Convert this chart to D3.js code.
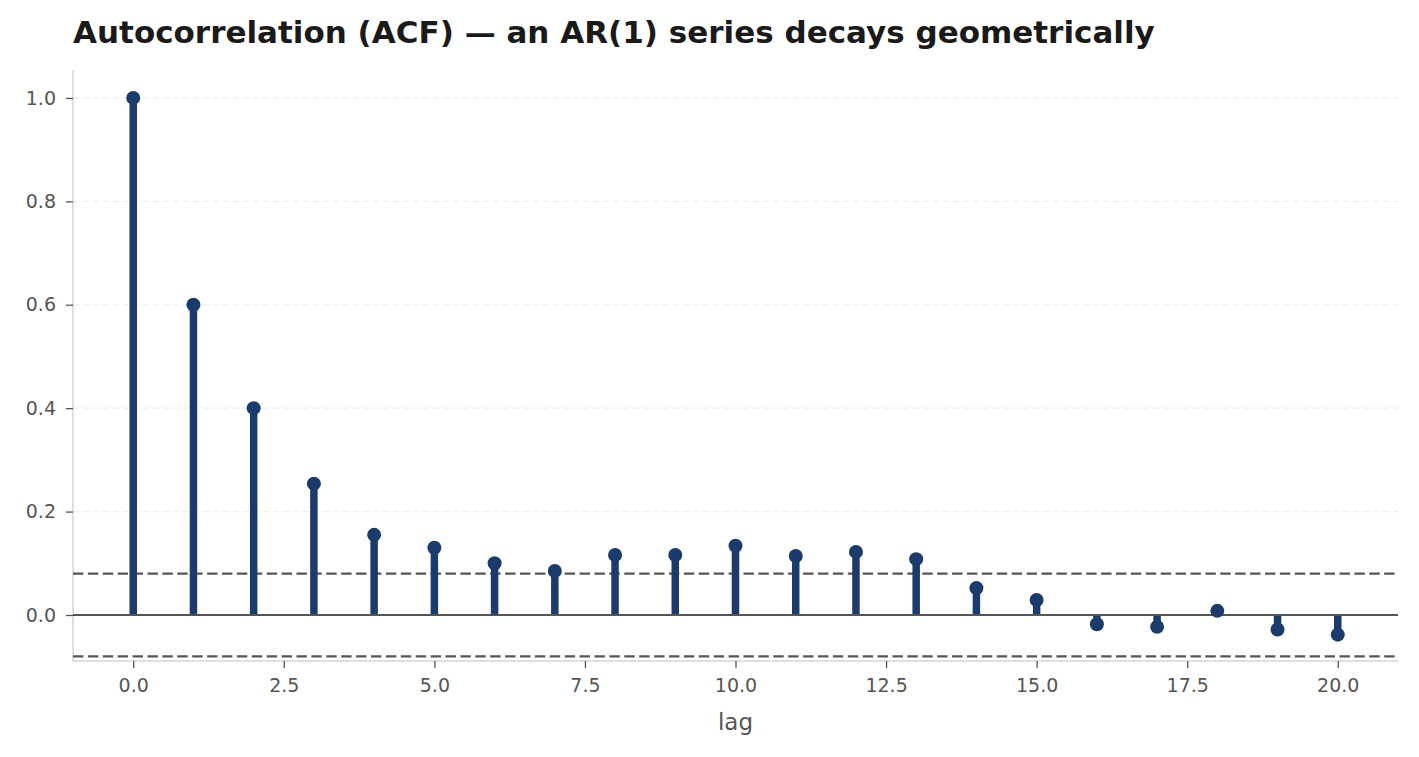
<!DOCTYPE html>
<html>
<head>
<meta charset="utf-8">
<script src="https://cdn.jsdelivr.net/npm/d3@7"></script>
<style>
  body { margin: 0; background: #fff; }
  svg { font-family: "DejaVu Sans", sans-serif; }
</style>
</head>
<body>
<div id="chart"></div>
<script>
const lags = d3.range(0, 21);
const acf = [1.0, 0.600, 0.400, 0.254, 0.155, 0.130, 0.100, 0.085, 0.116, 0.116,
             0.134, 0.114, 0.122, 0.108, 0.052, 0.029, -0.018, -0.023, 0.008, -0.028, -0.038];
const confBound = 0.08;
const yTicks = [0.0, 0.2, 0.4, 0.6, 0.8, 1.0];
const xTicks = [0, 2.5, 5, 7.5, 10, 12.5, 15, 17.5, 20];

const width = 1419, height = 757;
const margin = {top: 70, right: 21, bottom: 96, left: 73};

const svg = d3.select('#chart').append('svg')
  .attr('width', width)
  .attr('height', height);

const x = d3.scaleLinear().domain([-1, 21]).range([margin.left, width - margin.right]);
const y = d3.scaleLinear().domain([-0.089, 1.054]).range([height - margin.bottom, margin.top]);

const stemColor = '#1b3b6c';
const darkGrey = '#555555';

// grid
svg.append('g')
  .selectAll('line')
  .data(yTicks)
  .enter().append('line')
    .attr('x1', margin.left)
    .attr('x2', width - margin.right)
    .attr('y1', d => y(d))
    .attr('y2', d => y(d))
    .attr('stroke', '#eceef5')
    .attr('stroke-width', 1.2)
    .attr('stroke-dasharray', '6,4');

// axes
const yAxis = svg.append('g')
  .attr('transform', `translate(${margin.left},0)`)
  .call(d3.axisLeft(y).tickValues(yTicks).tickFormat(d3.format('.1f')).tickSize(7).tickPadding(10));
const xAxis = svg.append('g')
  .attr('transform', `translate(0,${height - margin.bottom})`)
  .call(d3.axisBottom(x).tickValues(xTicks).tickFormat(d3.format('.1f')).tickSize(7).tickPadding(11));

[xAxis, yAxis].forEach(a => {
  a.attr('font-size', null).attr('font-family', null);
  a.select('.domain').attr('stroke', '#d4d4d4').attr('stroke-width', 1.5);
  a.selectAll('.tick line').attr('stroke', darkGrey).attr('stroke-width', 1.3);
  a.selectAll('.tick text').attr('fill', darkGrey).attr('font-size', 19);
});
xAxis.select('.domain').attr('d', `M${margin.left},0H${width - margin.right}`);
yAxis.select('.domain').attr('d', `M0,${margin.top}V${height - margin.bottom}`);

// confidence band lines
svg.append('g')
  .selectAll('line')
  .data([confBound, -confBound])
  .enter().append('line')
    .attr('x1', margin.left)
    .attr('x2', width - margin.right)
    .attr('y1', d => y(d))
    .attr('y2', d => y(d))
    .attr('stroke', darkGrey)
    .attr('stroke-width', 2.4)
    .attr('stroke-dasharray', '10.4,4.5');

// stems
svg.append('g')
  .selectAll('line')
  .data(lags)
  .enter().append('line')
    .attr('x1', d => x(d))
    .attr('x2', d => x(d))
    .attr('y1', y(0))
    .attr('y2', d => y(acf[d]))
    .attr('stroke', stemColor)
    .attr('stroke-width', 7.5);

// zero line
svg.append('line')
  .attr('x1', margin.left)
  .attr('x2', width - margin.right)
  .attr('y1', y(0))
  .attr('y2', y(0))
  .attr('stroke', darkGrey)
  .attr('stroke-width', 2.2);

// markers
svg.append('g')
  .selectAll('circle')
  .data(lags)
  .enter().append('circle')
    .attr('cx', d => x(d))
    .attr('cy', d => y(acf[d]))
    .attr('r', 7)
    .attr('fill', stemColor);

// labels
svg.append('text')
  .attr('x', 73)
  .attr('y', 43)
  .attr('fill', '#1a1a1a')
  .attr('font-size', 31)
  .attr('font-weight', 'bold')
  .text('Autocorrelation (ACF) — an AR(1) series decays geometrically');

svg.append('text')
  .attr('x', (margin.left + width - margin.right) / 2)
  .attr('y', 730)
  .attr('text-anchor', 'middle')
  .attr('fill', darkGrey)
  .attr('font-size', 23)
  .text('lag');
</script>
</body>
</html>
